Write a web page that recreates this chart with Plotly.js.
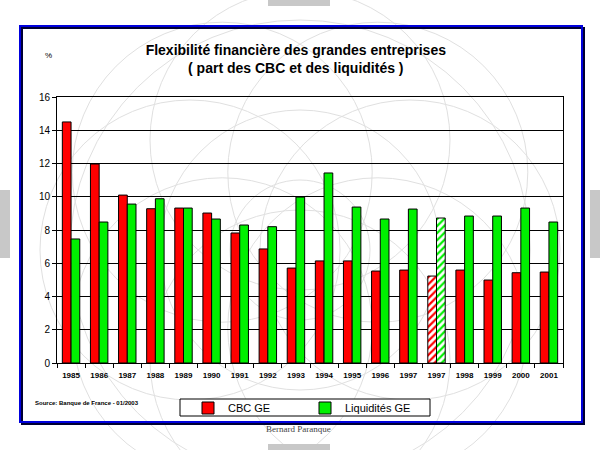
<!DOCTYPE html>
<html>
<head>
<meta charset="utf-8">
<script src="https://cdn.plot.ly/plotly-3.0.1.min.js"></script>
<style>
  html, body { margin: 0; padding: 0; background: #fff; }
  #chart { width: 600px; height: 450px; }
</style>
</head>
<body>
<div id="chart"></div>
<script>
// categories (1997 appears twice: the second one is the hatched estimate)
const categories = ['1985', '1986', '1987', '1988', '1989', '1990', '1991', '1992', '1993',
                    '1994', '1995', '1996', '1997', '1997e', '1998', '1999', '2000', '2001'];
const tickLabels = ['1985', '1986', '1987', '1988', '1989', '1990', '1991', '1992', '1993',
                    '1994', '1995', '1996', '1997', '1997', '1998', '1999', '2000', '2001'];
const cbcGE = [14.5, 11.97, 10.1, 9.28, 9.32, 9.02, 7.82, 6.86, 5.71,
               6.14, 6.14, 5.53, 5.59, 5.23, 5.59, 4.99, 5.43, 5.47];
const liquiditesGE = [7.46, 8.48, 9.56, 9.88, 9.32, 8.66, 8.30, 8.20, 9.98,
                      11.43, 9.38, 8.66, 9.26, 8.72, 8.84, 8.84, 9.32, 8.48];
const hatched = '1997e';

const RED = '#ff0000';
const GREEN = '#00f000';
const FONT = 'Liberation Sans, Arial, sans-serif';

// plot area in page pixels
const M = { l: 57, r: 37, t: 97, b: 87 };
const PW = 600 - M.l - M.r;
const PH = 450 - M.t - M.b;
const px = x => (x - M.l) / PW;
const py = y => (450 - M.b - y) / PH;

const patternShapes = categories.map(c => c === hatched ? '/' : '');

const barMarker = col => ({
    color: col,
    line: { color: '#000', width: 1 },
    pattern: {
        shape: patternShapes,
        fgcolor: col,
        bgcolor: '#ffffff',
        fillmode: 'replace',
        size: 5,
        solidity: 0.45,
    },
});

const traceCBC = {
    type: 'bar',
    name: 'CBC GE',
    x: categories,
    y: cbcGE,
    marker: barMarker(RED),
    hoverinfo: 'x+y',
};

const traceLiq = {
    type: 'bar',
    name: 'Liquidités GE',
    x: categories,
    y: liquiditesGE,
    marker: barMarker(GREEN),
    hoverinfo: 'x+y',
};

// faint globe watermark behind the plot
const watermark = [];
const gcx = 300, gcy = 250;
const circ = (cx, cy, r) => ({
    type: 'circle', xref: 'paper', yref: 'paper', layer: 'below',
    x0: px(cx - r), x1: px(cx + r), y0: py(cy + r), y1: py(cy - r),
    line: { color: '#e0e0e0', width: 1 },
});
[70, 140, 230].forEach(r => watermark.push(circ(gcx, gcy, r)));
for (let k = 0; k < 8; k++) {
    const a = k * Math.PI / 4;
    watermark.push(circ(gcx + 110 * Math.cos(a), gcy + 110 * Math.sin(a), 150));
}

const rectPx = (x0, y0, x1, y1, extra) => Object.assign({
    type: 'rect', xref: 'paper', yref: 'paper',
    x0: px(x0), x1: px(x1), y0: py(y1), y1: py(y0),
}, extra);

const shapes = watermark.concat([
    // frame shadow and blue frame
    rectPx(22, 28, 584, 424, { line: { color: '#000033', width: 2 }, layer: 'below' }),
    rectPx(20, 26, 582, 422, { line: { color: '#0000dd', width: 2 }, layer: 'below' }),
    // legend frame
    rectPx(180, 399, 430, 416, { line: { color: '#000', width: 1 }, fillcolor: '#fff', layer: 'below' }),
    // grey slide navigation tabs
    rectPx(268, 0, 330, 6, { line: { width: 0 }, fillcolor: '#c8c8c8' }),
    rectPx(268, 444, 330, 450, { line: { width: 0 }, fillcolor: '#c8c8c8' }),
    rectPx(0, 190, 10, 258, { line: { width: 0 }, fillcolor: '#c8c8c8' }),
    rectPx(590, 190, 600, 258, { line: { width: 0 }, fillcolor: '#c8c8c8' }),
]);

const layout = {
    width: 600,
    height: 450,
    margin: M,
    paper_bgcolor: '#ffffff',
    plot_bgcolor: 'rgba(0,0,0,0)',
    font: { family: FONT, color: '#000' },
    title: {
        text: 'Flexibilité financière des grandes entreprises<br>( part des CBC et des liquidités )',
        font: { family: FONT, size: 14, weight: 'bold', color: '#000' },
        x: 0.493, xanchor: 'center',
        y: 1 - 55 / 450, yanchor: 'top',
    },
    barmode: 'group',
    bargap: 0.38,
    bargroupgap: 0,
    xaxis: {
        type: 'category',
        tickmode: 'array',
        tickvals: categories,
        ticktext: tickLabels,
        tickson: 'boundaries',
        tickangle: 0,
        ticks: 'outside',
        ticklen: 4,
        tickcolor: '#000',
        ticklabelstandoff: 4,
        showgrid: false,
        showline: true,
        linecolor: '#000',
        linewidth: 1,
        mirror: true,
        tickfont: { family: FONT, size: 8, weight: 'bold', color: '#000' },
        fixedrange: true,
    },
    yaxis: {
        range: [0, 16],
        dtick: 2,
        ticks: 'outside',
        ticklen: 4,
        tickcolor: '#000',
        showgrid: true,
        gridcolor: '#000',
        gridwidth: 1,
        zeroline: false,
        showline: true,
        linecolor: '#000',
        linewidth: 1,
        mirror: true,
        tickfont: { family: FONT, size: 10, color: '#000' },
        fixedrange: true,
    },
    showlegend: true,
    legend: {
        orientation: 'h',
        x: px(188), xanchor: 'left',
        y: py(408), yanchor: 'middle',
        bgcolor: 'rgba(0,0,0,0)',
        borderwidth: 0,
        entrywidth: 72,
        itemwidth: 30,
        font: { family: FONT, size: 11, color: '#000' },
        itemclick: false,
        itemdoubleclick: false,
    },
    shapes: shapes,
    annotations: [
        { text: '%', xref: 'paper', yref: 'paper', x: px(43), y: py(49), showarrow: false,
          font: { family: FONT, size: 8, color: '#000' } },
        { text: 'Source: Banque de France - 01/2003', xref: 'paper', yref: 'paper',
          x: px(33), y: py(403), xanchor: 'left', yanchor: 'middle', showarrow: false,
          font: { family: FONT, size: 6, weight: 'bold', color: '#000' } },
        { text: 'Bernard Paranque', xref: 'paper', yref: 'paper', x: px(298), y: py(429),
          yanchor: 'middle', showarrow: false,
          font: { family: 'Liberation Serif, serif', size: 9, color: '#444' } },
    ],
};

Plotly.newPlot('chart', [traceCBC, traceLiq], layout, { displayModeBar: false });
</script>
</body>
</html>
